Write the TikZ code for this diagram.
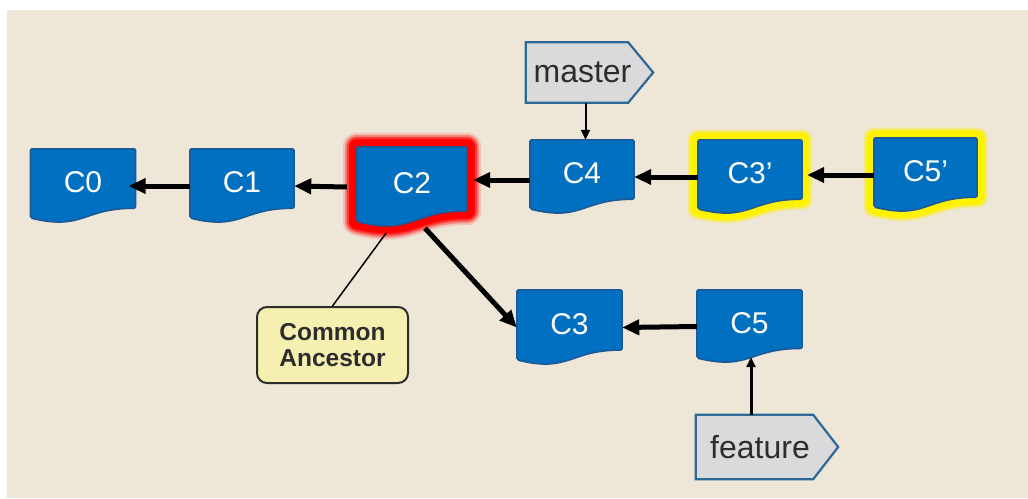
\documentclass[tikz,border=0pt]{standalone}
\usepackage{fontspec}
\setmainfont{Liberation Sans}
\usetikzlibrary{calc,backgrounds,arrows.meta}
\definecolor{paper}{RGB}{238,230,215}
\definecolor{docblue}{RGB}{2,112,192}
\definecolor{docedge}{RGB}{28,88,148}
\definecolor{tagfill}{RGB}{218,218,220}
\definecolor{tagedge}{RGB}{45,105,150}
\definecolor{notefill}{RGB}{245,240,178}
\definecolor{noteedge}{RGB}{45,45,40}
\definecolor{inkgray}{RGB}{45,45,45}
\tikzset{
  commit/.style={minimum width=105pt, minimum height=74pt, inner sep=0pt,
    text=white, font=\fontsize{30}{31}\selectfont, text height=21pt, text depth=8pt},
  docshape/.style={fill=docblue, draw=docedge, line width=1.5pt, rounded corners=2pt},
  branchtag/.style={minimum height=60pt, inner sep=0pt, text=inkgray,
    font=\fontsize{32}{34}\selectfont},
  tagshape/.style={fill=tagfill, draw=tagedge, line width=2.2pt, line join=miter},
  note/.style={fill=notefill, draw=noteedge, line width=2pt, rounded corners=10pt,
    minimum width=151pt, minimum height=76pt, inner sep=0pt, align=center,
    text=inkgray, font=\fontsize{24.5}{26}\selectfont\bfseries},
  bigarrow/.style={line width=5pt, -{Triangle[length=17pt,width=15pt]}},
  thinarrow/.style={line width=2pt, -{Triangle[length=10pt,width=9pt]}},
  leader/.style={line width=1.5pt, draw=black}
}
\begin{document}
\begin{tikzpicture}[x=1pt,y=-1pt]
\useasboundingbox (0,0) rectangle (1028,498);

% commits
\node[commit]                                   (c0)  at (83,186)    {C0};
\node[commit, minimum width=104pt]              (c1)  at (242,186)   {C1};
\node[commit, minimum width=110pt, minimum height=80pt] (c2) at (412,187) {C2};
\node[commit, minimum width=104pt]              (c4)  at (582,177)   {C4};
\node[commit, minimum width=104pt]              (c3p) at (750,177)   {C3’};
\node[commit, minimum width=103pt]              (c5p) at (925.5,175) {C5’};
\node[commit, minimum height=75pt]              (c3)  at (569.5,327.5) {C3};
\node[commit, minimum height=73pt]              (c5)  at (749.5,326.5) {C5};

% branch labels
\node[branchtag, minimum width=127pt] (master)  at (589.5,72.5) {master\hspace*{14pt}};
\node[branchtag, minimum width=142pt, minimum height=64pt] (feature) at (767,447) {feature\hspace*{14pt}};

% annotation
\node[note] (ca) at (332.5,345) {Common\\Ancestor};

\begin{pgfonlayer}{background}
  \fill[white] (0,0) rectangle (1028,498);
  \fill[paper] (7,10) rectangle (1028,498);

  % red glow round the shared base commit
  \foreach \w/\o in {28/0.15,24/0.3,20/0.55,16/0.85,13/1} {
    \draw[red, line width=\w pt, opacity=\o, line join=round]
      (c2.north west) -- (c2.north east)
      -- ($(c2.north east)!0.80!(c2.south east)$)
      .. controls ($(c2.north)!0.80!(c2.south)$) and ($(c2.north)!1.10!(c2.south)$)
      .. ($(c2.north west)!0.93!(c2.south west)$) -- cycle;
  }
  % yellow glow round the replayed commits
  \foreach \n in {c3p,c5p} {
    \foreach \w/\o in {22/0.15,19/0.35,16/0.7,13/1} {
      \draw[yellow, line width=\w pt, opacity=\o, line join=round]
        (\n.north west) -- (\n.north east)
        -- ($(\n.north east)!0.80!(\n.south east)$)
        .. controls ($(\n.north)!0.80!(\n.south)$) and ($(\n.north)!1.10!(\n.south)$)
        .. ($(\n.north west)!0.93!(\n.south west)$) -- cycle;
    }
  }
  % document-shaped commit boxes
  \foreach \n in {c0,c1,c2,c4,c3p,c5p,c3,c5} {
    \filldraw[docshape]
      (\n.north west) -- (\n.north east)
      -- ($(\n.north east)!0.80!(\n.south east)$)
      .. controls ($(\n.north)!0.80!(\n.south)$) and ($(\n.north)!1.10!(\n.south)$)
      .. ($(\n.north west)!0.93!(\n.south west)$) -- cycle;
  }
  % pointed branch tags
  \foreach \n in {master,feature} {
    \filldraw[tagshape]
      (\n.north west) -- ($(\n.north east)+(-25,0)$) -- (\n.east)
      -- ($(\n.south east)+(-25,0)$) -- (\n.south west) -- cycle;
  }
\end{pgfonlayer}

% parent links
\draw[bigarrow] (c1.west) -- ($(c0.east)+(-7,0)$);
\draw[bigarrow] ($(c2.west)+(-10,0)$) -- (c1.east);
\draw[bigarrow] ($(c4.west)+(0,3)$) -- ($(c4.west -| c2.east)+(6,3)$);
\draw[bigarrow] (c3p.west) -- (c4.east);
\draw[bigarrow] (c5p.west) -- ($(c5p.west -| c3p.east)+(5,0)$);
\draw[bigarrow] (c5.west) -- (c3.east);
\draw[bigarrow] ($(c2.south)+(13,1)$) -- (c3.west);

% branch pointers
\coordinate (mtail) at ($(master.south)+(-4,0)$);
\coordinate (ftail) at ($(feature.north)+(-16,0)$);
\coordinate (fhead) at ($(ftail |- c5.south)+(0,-6)$);
\draw[thinarrow] (mtail) -- (mtail |- c4.north);
\draw[thinarrow, line width=3pt] (ftail) -- (fhead);

% annotation leader
\draw[leader] ($(c2.south)+(-26,6)$) -- (ca.north);
\end{tikzpicture}
\end{document}
